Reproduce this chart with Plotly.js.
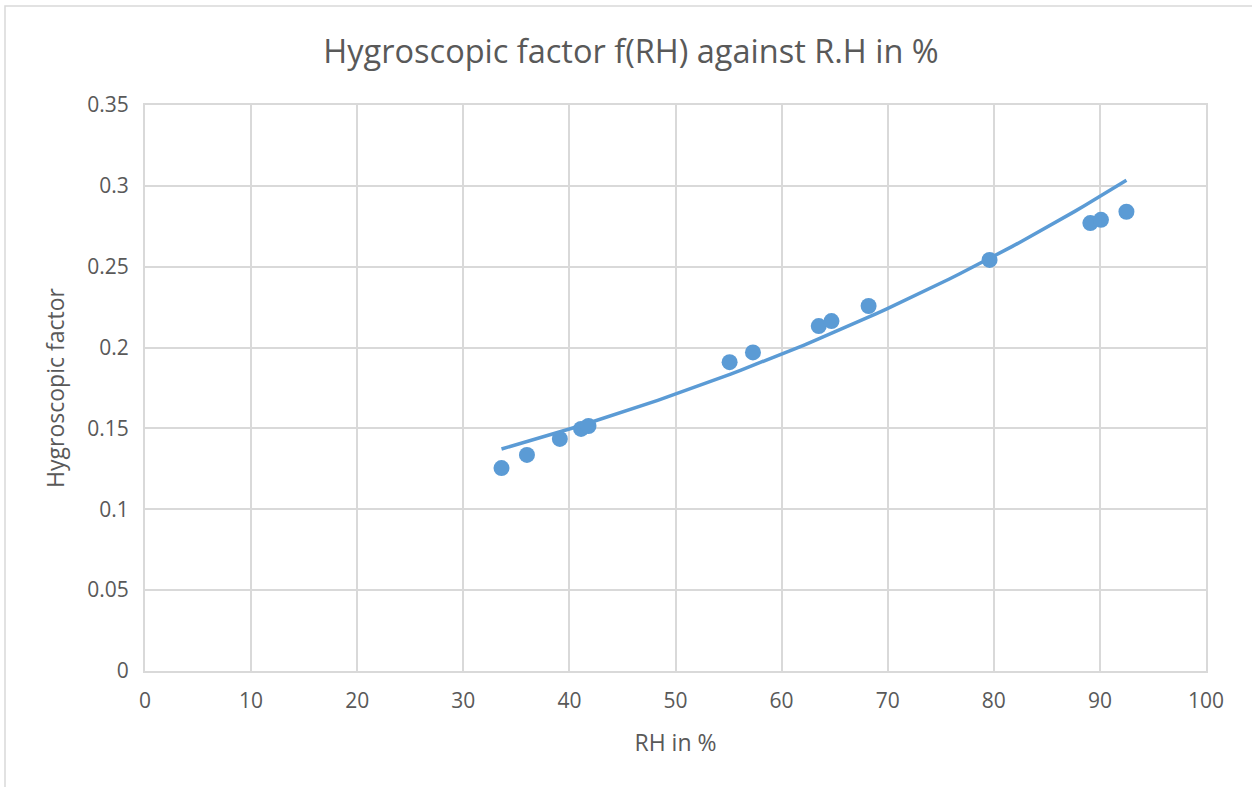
<!DOCTYPE html>
<html>
<head>
<meta charset="utf-8">
<script src="https://cdn.plot.ly/plotly-3.0.1.min.js"></script>
<style>
  body { margin: 0; background: #fff; }
  #chart { width: 1252px; height: 787px; }
</style>
</head>
<body>
<div id="chart"></div>
<script>
// measured points: relative humidity (%) and hygroscopic factor
const rh_values = [33.6, 36.0, 39.1, 41.1, 41.8, 55.1, 57.3, 63.5, 64.7, 68.2, 79.6, 89.1, 90.1, 92.5];
const fh_values = [0.1255, 0.1336, 0.1435, 0.1497, 0.1515, 0.191, 0.197, 0.2133, 0.2164, 0.2257, 0.2542, 0.277, 0.279, 0.284];

const x_ticks = [0, 10, 20, 30, 40, 50, 60, 70, 80, 90, 100];
const y_ticks = [0, 0.05, 0.1, 0.15, 0.2, 0.25, 0.3, 0.35];
const y_tick_labels = ["0", "0.05", "0.1", "0.15", "0.2", "0.25", "0.3", "0.35"];

// exponential trendline y = a * exp(b * x), coefficients
const trend_a = 0.0873;
const trend_b = 0.01347;

const blue = "#5b9bd5";
const grey_text = "#595959";
const grid = "#d9d9d9";
const font_family = "'Open Sans', sans-serif";

// trendline spans the measured range
const x_min = Math.min(...rh_values);
const x_max = Math.max(...rh_values);
const trend_x = [];
const trend_y = [];
for (let i = 0; i <= 60; i++) {
    const x = x_min + (x_max - x_min) * i / 60;
    trend_x.push(x);
    trend_y.push(trend_a * Math.exp(trend_b * x));
}

const pointsTrace = {
    x      : rh_values,
    y      : fh_values,
    type   : "scatter",
    mode   : "markers",
    marker : { color: blue, size: 16 },
    hoverinfo : "x+y"
};

const trendTrace = {
    x    : trend_x,
    y    : trend_y,
    type : "scatter",
    mode : "lines",
    line : { color: blue, width: 3.5 },
    hoverinfo : "skip"
};

const layout = {
    width  : 1252,
    height : 787,
    margin : { l: 145, r: 46, t: 105, b: 116 },
    paper_bgcolor : "#fff",
    plot_bgcolor  : "#fff",
    showlegend : false,
    font : { family: font_family, color: grey_text, size: 21 },
    title : {
        text : "Hygroscopic factor f(RH) against R.H in %",
        font : { family: font_family, size: 32.5, color: grey_text },
        x : 0.504, xanchor : "center",
        y : 0.935, yanchor : "middle"
    },
    xaxis : {
        range : [0, 100],
        tickvals : x_ticks,
        showgrid : true, gridcolor : grid, gridwidth : 2,
        zeroline : false,
        showline : true, linecolor : grid, linewidth : 2,
        mirror : true,
        ticks : "", ticklen : 0,
        ticklabelstandoff : 10,
        tickfont : { size: 21, color: grey_text },
        title : { text: "RH in %", font: { size: 23, color: grey_text }, standoff: 22 }
    },
    yaxis : {
        range : [0, 0.35],
        tickvals : y_ticks,
        ticktext : y_tick_labels,
        showgrid : true, gridcolor : grid, gridwidth : 2,
        zeroline : false,
        showline : true, linecolor : grid, linewidth : 2,
        mirror : true,
        ticks : "", ticklen : 0,
        ticklabelstandoff : 10,
        tickfont : { size: 21, color: grey_text },
        title : { text: "Hygroscopic factor", font: { size: 23, color: grey_text }, standoff: 16 }
    },
    // outer chart frame
    shapes : [{
        type : "rect",
        xref : "paper", yref : "paper",
        x0 : (5 - 145) / 1061, x1 : (1262 - 145) / 1061,
        y0 : (671 - 792) / 566, y1 : (671 - 6) / 566,
        line : { color: grid, width: 1.5 },
        layer : "below"
    }]
};

Plotly.newPlot("chart", [trendTrace, pointsTrace], layout, { displayModeBar: false, staticPlot: true });
</script>
</body>
</html>
